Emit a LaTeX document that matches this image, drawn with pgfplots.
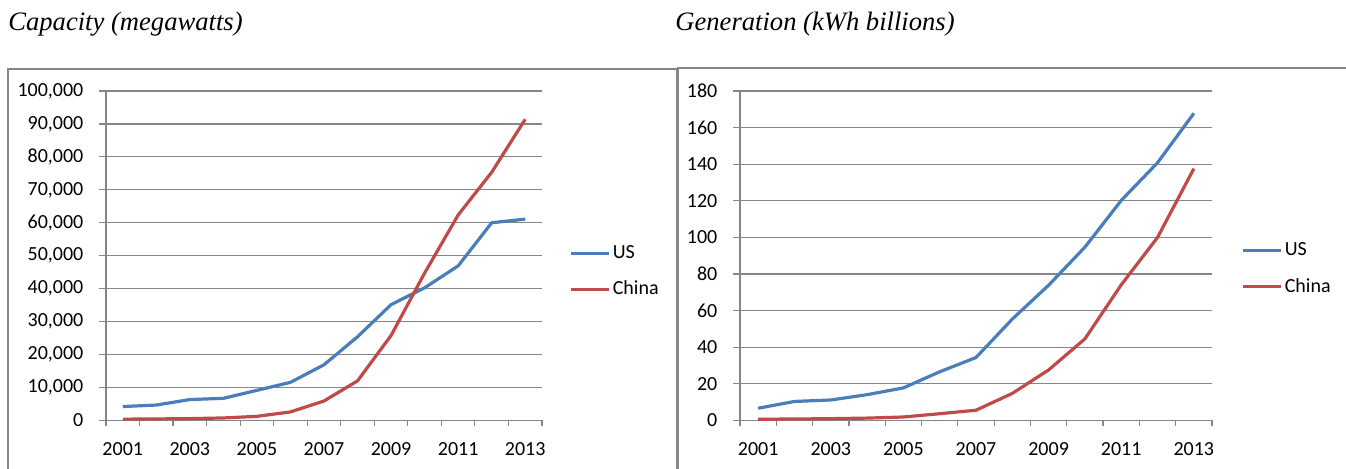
\documentclass[border=0pt]{standalone}
\usepackage{pgfplots}
\pgfplotsset{compat=1.18}
\usepackage{fontspec}
\setmainfont{Liberation Serif}
\newfontfamily\calibri{Carlito}
\definecolor{usblue}{RGB}{74,126,187}
\definecolor{cnred}{RGB}{190,75,72}
\definecolor{gridgray}{RGB}{134,134,134}

% Installed capacity, megawatts
\pgfplotstableread{
year us cn
2001 4232 404
2002 4687 468
2003 6350 567
2004 6725 764
2005 9149 1260
2006 11575 2599
2007 16907 5912
2008 25410 12020
2009 35159 25805
2010 40267 44733
2011 46916 62364
2012 60007 75324
2013 61108 91412
}\capacity

% Net generation, billion kWh
\pgfplotstableread{
year us cn
2001 6.7 0.7
2002 10.4 0.8
2003 11.2 1.0
2004 14.1 1.3
2005 17.8 1.9
2006 26.6 3.7
2007 34.4 5.6
2008 55.4 14.8
2009 73.9 27.6
2010 94.7 44.6
2011 120.2 74.1
2012 140.8 100.0
2013 167.8 137.6
}\generation

\pgfplotsset{
  excelstyle/.style={
    scale only axis,
    anchor=south west,
    xmin=2000.5, xmax=2013.5,
    axis x line*=bottom, axis y line*=left,
    axis line style={gridgray, line width=0.6pt, -},
    tick align=outside,
    scaled x ticks=false, scaled y ticks=false,
    xtick={2001,2003,...,2013},
    xticklabels={2001,2003,2005,2007,2009,2011,2013},
    minor xtick={2000.5,2001.5,...,2013.5},
    major x tick style={draw=none},
    minor x tick style={gridgray, line width=0.6pt},
    minor tick length=3pt,
    major tick length=3.3pt,
    ytick style={gridgray, line width=0.6pt},
    ymajorgrids,
    grid style={gridgray, line width=0.6pt},
    ticklabel style={font=\calibri\fontsize{10}{12}\selectfont, text=black},
    xticklabel style={yshift=-4pt},
    yticklabel style={xshift=-4.5pt},
    every axis plot/.append style={line width=1.6pt, line join=round},
    legend image code/.code={\draw[##1] (0pt,0pt) -- (19pt,0pt);},
    legend cell align=left,
    legend style={draw=none, fill=none, anchor=west, inner sep=0pt,
      font=\calibri\fontsize{10}{12}\selectfont,
      row sep=9.75pt, column sep=1.2pt,
      nodes={inner sep=0pt, anchor=west}},
  }
}

\begin{document}
\begin{tikzpicture}
\path[use as bounding box] (0pt,0pt) rectangle (673pt,234.5pt);

% chart frames
\draw[gridgray, line width=0.75pt] (4pt,-10pt) |- (338.5pt,200pt) -- (338.5pt,-10pt);
\draw[gridgray, line width=0.75pt] (339pt,-10pt) |- (690pt,200.5pt);

% titles
\node[anchor=base west, inner sep=0pt, font=\itshape\fontsize{13.3}{15}\selectfont] at (4pt,219.2pt) {Capacity (megawatts)};
\node[anchor=base west, inner sep=0pt, font=\itshape\fontsize{13.3}{15}\selectfont] at (337.5pt,219.2pt) {Generation (kWh billions)};

\begin{axis}[excelstyle,
  at={(53pt,24.25pt)}, width=218pt, height=164.75pt,
  ymin=0, ymax=100000, ytick={0,10000,...,100000},
  yticklabels={0,{10,000},{20,000},{30,000},{40,000},{50,000},{60,000},{70,000},{80,000},{90,000},{100,000}},
  legend style={at={(1.0615,0.4525)}}]
\addplot[usblue] table[x=year, y=us] {\capacity};
\addlegendentry{US}
\addplot[cnred] table[x=year, y=cn] {\capacity};
\addlegendentry{China}
\end{axis}

\begin{axis}[excelstyle,
  at={(370pt,24.25pt)}, width=236pt, height=164.75pt,
  ymin=0, ymax=180, ytick={0,20,...,180},
  yticklabels={0,20,40,60,80,100,120,140,160,180},
  legend style={at={(1.061,0.46)}}]
\addplot[usblue] table[x=year, y=us] {\generation};
\addlegendentry{US}
\addplot[cnred] table[x=year, y=cn] {\generation};
\addlegendentry{China}
\end{axis}
\end{tikzpicture}
\end{document}
